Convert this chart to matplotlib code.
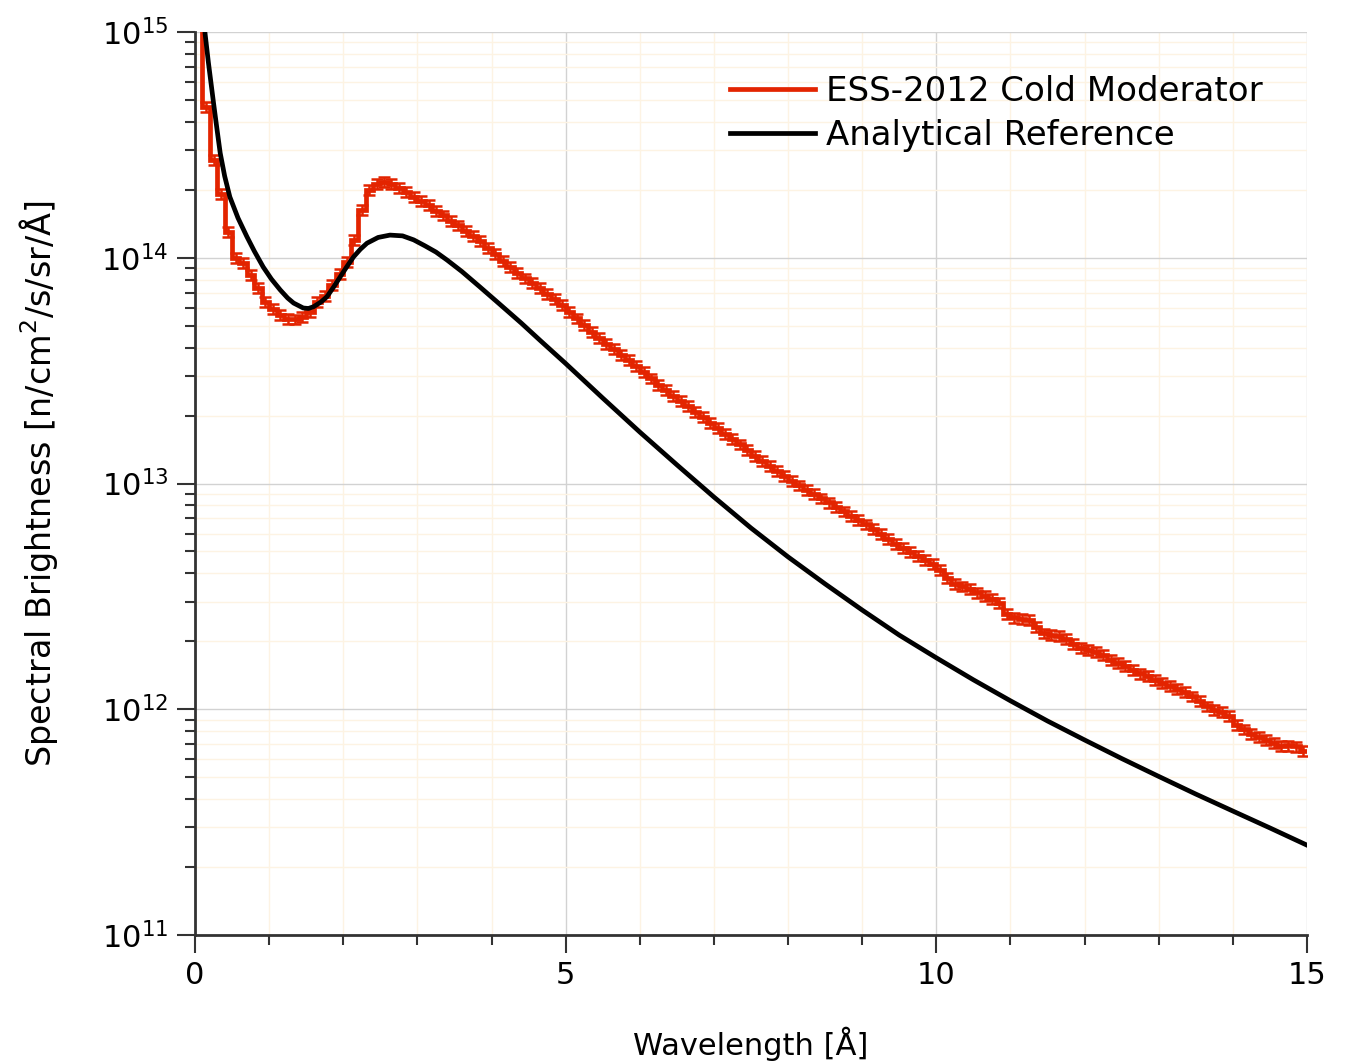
import numpy as np
import matplotlib
matplotlib.use("Agg")
import matplotlib.pyplot as plt
from matplotlib.ticker import MultipleLocator, LogLocator

# ESS-2012 cold moderator, 0.1 A bins from 0 to 15 A
bin_width = 0.1
ess_brightness = [
    1.6e15, 4.65e14, 2.71e14, 1.92e14, 1.30e14, 9.98e13, 9.48e13, 8.39e13, 7.35e13, 6.37e13,
    5.93e13, 5.58e13, 5.36e13, 5.33e13, 5.47e13, 5.75e13, 6.37e13, 6.77e13, 7.57e13, 8.47e13,
    9.57e13, 1.20e14, 1.63e14, 2.00e14, 2.12e14, 2.17e14, 2.12e14, 2.04e14, 1.96e14, 1.86e14,
    1.78e14, 1.71e14, 1.61e14, 1.54e14, 1.46e14, 1.39e14, 1.32e14, 1.25e14, 1.19e14, 1.11e14,
    1.04e14, 9.72e13, 9.12e13, 8.56e13, 8.10e13, 7.72e13, 7.35e13, 6.94e13, 6.55e13, 6.18e13,
    5.77e13, 5.39e13, 5.04e13, 4.70e13, 4.41e13, 4.17e13, 3.94e13, 3.72e13, 3.53e13, 3.31e13,
    3.11e13, 2.92e13, 2.74e13, 2.59e13, 2.45e13, 2.32e13, 2.20e13, 2.08e13, 1.97e13, 1.86e13,
    1.76e13, 1.66e13, 1.57e13, 1.49e13, 1.41e13, 1.33e13, 1.26e13, 1.20e13, 1.14e13, 1.08e13,
    1.03e13, 9.81e12, 9.39e12, 8.98e12, 8.60e12, 8.24e12, 7.88e12, 7.53e12, 7.21e12, 6.89e12,
    6.59e12, 6.28e12, 5.98e12, 5.69e12, 5.42e12, 5.18e12, 4.97e12, 4.78e12, 4.59e12, 4.41e12,
    4.14e12, 3.81e12, 3.59e12, 3.50e12, 3.41e12, 3.29e12, 3.18e12, 3.07e12, 2.96e12, 2.64e12,
    2.55e12, 2.52e12, 2.49e12, 2.31e12, 2.17e12, 2.14e12, 2.11e12, 2.05e12, 1.95e12, 1.87e12,
    1.83e12, 1.79e12, 1.74e12, 1.65e12, 1.60e12, 1.55e12, 1.49e12, 1.44e12, 1.40e12, 1.35e12,
    1.31e12, 1.27e12, 1.23e12, 1.19e12, 1.14e12, 1.09e12, 1.03e12, 9.97e11, 9.77e11, 9.33e11,
    8.52e11, 8.14e11, 7.80e11, 7.56e11, 7.33e11, 7.09e11, 6.87e11, 6.91e11, 6.84e11, 6.53e11,
]
ess_rel_err = 0.05

# analytical reference curve
ref_wavelength = [0.10, 0.135, 0.18, 0.25, 0.30, 0.34, 0.40, 0.47, 0.58, 0.70, 0.80, 0.92,
                  1.03, 1.15, 1.25, 1.33, 1.46, 1.53, 1.60, 1.70, 1.78, 1.87, 1.96, 2.05,
                  2.14, 2.23, 2.32, 2.47, 2.63, 2.80, 2.95, 3.10, 3.25, 3.40, 3.60, 3.84,
                  4.10, 4.40, 4.65, 5.0, 5.5, 6.0, 6.5, 7.0, 7.5, 8.0, 8.5, 9.0, 9.5, 10.0,
                  10.5, 11.0, 11.5, 12.0, 12.5, 13.0, 13.5, 14.0, 14.5, 15.0]
ref_brightness = [1.4e15, 9.90e14, 7.36e14, 4.85e14, 3.64e14, 2.91e14, 2.30e14, 1.86e14,
                  1.50e14, 1.24e14, 1.07e14, 9.10e13, 8.05e13, 7.20e13, 6.63e13, 6.30e13,
                  5.99e13, 5.96e13, 6.07e13, 6.37e13, 6.72e13, 7.42e13, 8.24e13, 9.15e13,
                  1.01e14, 1.09e14, 1.16e14, 1.23e14, 1.26e14, 1.25e14, 1.20e14, 1.13e14,
                  1.06e14, 9.77e13, 8.69e13, 7.44e13, 6.27e13, 5.14e13, 4.32e13, 3.40e13,
                  2.39e13, 1.69e13, 1.21e13, 8.71e12, 6.35e12, 4.73e12, 3.59e12, 2.75e12,
                  2.13e12, 1.69e12, 1.35e12, 1.09e12, 8.87e11, 7.31e11, 6.05e11, 5.04e11,
                  4.21e11, 3.54e11, 2.98e11, 2.50e11]

red = '#e32400'
ess = np.array(ess_brightness)
edges = np.arange(len(ess) + 1) * bin_width
centers = edges[:-1] + bin_width / 2

fig = plt.figure(figsize=(13.45, 10.64), dpi=100)
ax = fig.add_axes([195 / 1345, 129 / 1064, 1112 / 1345, 903 / 1064])

ax.stairs(ess, edges, baseline=None, color=red, lw=3.4, label='ESS-2012 Cold Moderator', zorder=3)
ax.errorbar(centers, ess, yerr=ess * ess_rel_err, fmt='none', ecolor=red, elinewidth=1.8,
            capsize=4, capthick=1.8, zorder=3)
ax.plot(ref_wavelength, ref_brightness, color='black', lw=3.4, label='Analytical Reference',
        zorder=4, solid_joinstyle='round')

ax.set_yscale('log')
ax.set_xlim(0, 15)
ax.set_ylim(1e11, 1e15)
ax.xaxis.set_major_locator(MultipleLocator(5))
ax.xaxis.set_minor_locator(MultipleLocator(1))
ax.yaxis.set_major_locator(LogLocator(base=10))
ax.yaxis.set_minor_locator(LogLocator(base=10, subs=np.arange(2, 10)))

ax.grid(which='major', color='#d2d2d2', lw=1)
ax.grid(which='minor', color='#fdf3e3', lw=1)
ax.set_axisbelow(True)

for s in ['top', 'right']:
    ax.spines[s].set_visible(False)
for s in ['left', 'bottom']:
    ax.spines[s].set_color('#333333')
    ax.spines[s].set_linewidth(2)

ax.tick_params(which='major', direction='out', length=13, width=1.5, color='#333333',
               labelsize=22, pad=6)
ax.tick_params(which='minor', direction='out', length=7, width=1.5, color='#333333')

ax.set_xlabel('Wavelength [Å]', fontsize=22, labelpad=26)
ax.set_ylabel('Spectral Brightness [n/cm$^2$/s/sr/Å]', fontsize=24, labelpad=30)

ax.legend(loc='upper left', bbox_to_anchor=(0.481, 0.952), frameon=False, fontsize=24.5,
          handlelength=2.5, handletextpad=0.32, labelspacing=0.3, borderpad=0, borderaxespad=0)

fig.savefig('out.png', dpi=100)
